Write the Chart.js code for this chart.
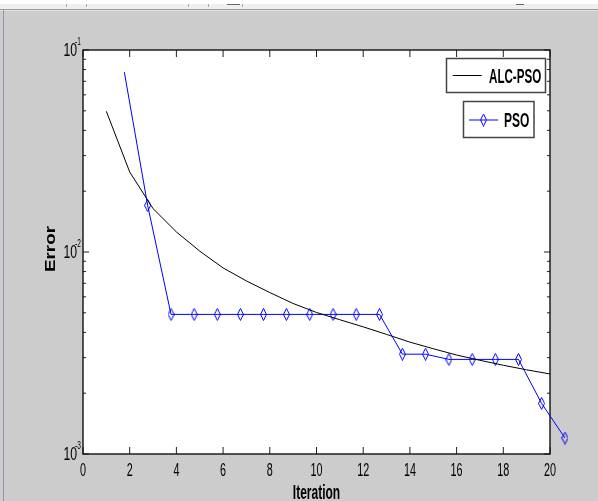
<!DOCTYPE html>
<html><head><meta charset="utf-8">
<script src="https://cdn.jsdelivr.net/npm/chart.js@4/dist/chart.umd.min.js"></script>
<style>html,body{margin:0;padding:0;background:#cccccc;overflow:hidden}canvas{display:block}</style>
</head><body>
<canvas id="c" width="598" height="501"></canvas>
<script>
// ---- data ----
const alcIter  = [1,2,3,4,5,6,7,8,9,10,11,12,13,14,15,16,17,18,19,20];
const alcError = [0.0497,0.0249,0.0164,0.01257,0.0101,0.00834,0.00719,0.0063,0.00556,0.00502,
                  0.00462,0.00426,0.00391,0.00358,0.00332,0.00309,0.00291,0.00275,0.00261,0.00249];
const psoIter  = [1.77,2.77,3.77,4.76,5.75,6.74,7.73,8.71,9.71,10.71,11.70,12.70,
                  13.68,14.67,15.67,16.67,17.66,18.65,19.64,20.64];
const psoError = [0.0777,0.0170,0.00491,0.00491,0.00491,0.00491,0.00491,0.00491,0.00491,0.00491,
                  0.00491,0.00491,0.00312,0.00312,0.00294,0.00294,0.00294,0.00294,0.00178,0.00120];
const seriesNames = ['ALC-PSO','PSO'];
const xTickValues = [0,2,4,6,8,10,12,14,16,18,20];
const xTickLabels = ['0','2','4','6','8','10','12','14','16','18','20'];
const yTickValues = [0.1,0.01,0.001];
const yTickBase = '10';
const yTickExponents = ['-1','-2','-3'];
const xTitle = 'Iteration';
const yTitle = 'Error';

const FONT = '"Liberation Sans", Arial, sans-serif';
function makeDiamond(w,h,color){
  const c=document.createElement('canvas'); c.width=w; c.height=h;
  const g=c.getContext('2d'); g.strokeStyle=color; g.lineWidth=1;
  g.beginPath(); g.moveTo(w/2,0.5); g.lineTo(w-0.5,h/2); g.lineTo(w/2,h-0.5); g.lineTo(0.5,h/2); g.closePath(); g.stroke();
  return c;
}
const diamond = makeDiamond(7,13,'#0000ff');

function txt(ctx,s,x,y,size,bold,sx,align,rot){
  ctx.save(); ctx.translate(x,y); if(rot) ctx.rotate(rot); ctx.scale(sx,1);
  ctx.font=(bold?'bold ':'')+size+'px '+FONT; ctx.textAlign=align; ctx.textBaseline='alphabetic';
  ctx.fillStyle='#000'; ctx.fillText(s,0,0); ctx.restore();
}

const decor = {
  id:'decor',
  beforeDraw(chart){
    const ctx=chart.ctx, a=chart.chartArea;
    ctx.save();
    // window chrome
    ctx.fillStyle='#ffffff'; ctx.fillRect(0,0,598,4);
    ctx.fillStyle='#efefef'; ctx.fillRect(0,4,598,5);
    ctx.fillStyle='#9c9c9c'; ctx.fillRect(0,9,598,1);
    ctx.fillStyle='#e2e2e2'; ctx.fillRect(0,10,598,1);
    ctx.fillStyle='#8c9aa8'; ctx.fillRect(3,10,1,491);
    ctx.fillStyle='#a8a8a8';
    [66,86,188,208,242].forEach(x=>ctx.fillRect(x,4,1,3));
    ctx.fillStyle='#666'; ctx.fillRect(227,4,13,1); ctx.fillRect(516,4,8,1);
    // plot background
    ctx.fillStyle='#ffffff'; ctx.fillRect(a.left,a.top,a.right-a.left,a.bottom-a.top);
    ctx.restore();
  },
  beforeDatasetsDraw(chart){
    const ctx=chart.ctx, a=chart.chartArea, xs=chart.scales.x, ys=chart.scales.y;
    ctx.save();
    ctx.strokeStyle='#222'; ctx.lineWidth=1;
    ctx.beginPath();
    xTickValues.forEach(v=>{ const p=xs.getPixelForValue(v);
      ctx.moveTo(p,a.bottom); ctx.lineTo(p,a.bottom-7); ctx.moveTo(p,a.top); ctx.lineTo(p,a.top+7); });
    yTickValues.forEach(v=>{ const p=ys.getPixelForValue(v);
      ctx.moveTo(a.left,p); ctx.lineTo(a.left+6,p); ctx.moveTo(a.right,p); ctx.lineTo(a.right-6,p); });
    [0.001,0.01].forEach(d=>{ for(let k=2;k<=9;k++){ const p=ys.getPixelForValue(d*k);
      ctx.moveTo(a.left,p); ctx.lineTo(a.left+3,p); ctx.moveTo(a.right,p); ctx.lineTo(a.right-3,p); } });
    ctx.stroke();
    ctx.strokeStyle='#111'; ctx.lineWidth=1.4;
    ctx.strokeRect(a.left,a.top,a.right-a.left,a.bottom-a.top);
    ctx.restore();
  },
  afterDraw(chart){
    const ctx=chart.ctx, a=chart.chartArea, xs=chart.scales.x, ys=chart.scales.y;
    // tick labels
    xTickValues.forEach((v,i)=>txt(ctx,xTickLabels[i],xs.getPixelForValue(v),475.5,18,false,0.6,'center'));
    yTickValues.forEach((v,i)=>{ const p=ys.getPixelForValue(v);
      txt(ctx,yTickBase,77,p+6,18,false,0.68,'right');
      txt(ctx,yTickExponents[i],75,p-5.5,10,false,0.65,'left'); });
    // axis titles
    txt(ctx,xTitle,316.5,499,20,true,0.6,'center');
    txt(ctx,yTitle,55,249,14,true,1.35,'center',-Math.PI/2);
    // legend boxes
    ctx.save();
    ctx.fillStyle='#fff'; ctx.strokeStyle='#444'; ctx.lineWidth=1.5;
    ctx.fillRect(446.5,58.5,99,34); ctx.strokeRect(446.5,58.5,99,34);
    ctx.fillRect(463.5,101.5,70.5,36); ctx.strokeRect(463.5,101.5,70.5,36);
    ctx.lineWidth=1; ctx.strokeStyle='#000';
    ctx.beginPath(); ctx.moveTo(452.7,75.5); ctx.lineTo(481.7,75.5); ctx.stroke();
    ctx.strokeStyle='#0000ff';
    ctx.beginPath(); ctx.moveTo(469,120); ctx.lineTo(498,120); ctx.stroke();
    ctx.drawImage(diamond,483.5-diamond.width/2,120-diamond.height/2);
    ctx.restore();
    txt(ctx,seriesNames[0],489,83,20,true,0.58,'left');
    txt(ctx,seriesNames[1],504,127,20,true,0.6,'left');
  }
};

new Chart(document.getElementById('c'),{
  type:'line',
  data:{datasets:[
    {label:seriesNames[0],data:alcIter.map((x,i)=>({x,y:alcError[i]})),borderColor:'#000',borderWidth:1,
     pointRadius:0,tension:0,fill:false},
    {label:seriesNames[1],data:psoIter.map((x,i)=>({x,y:psoError[i]})),borderColor:'#0000ff',borderWidth:1,
     pointStyle:diamond,pointRadius:c=>c.dataIndex===0?0:20,tension:0,fill:false,clip:false}
  ]},
  options:{
    responsive:false,animation:false,devicePixelRatio:1,events:[],
    layout:{padding:{top:50,right:48,bottom:0,left:0}},
    plugins:{legend:{display:false},tooltip:{enabled:false}},
    scales:{
      x:{type:'linear',min:0,max:20,ticks:{display:false},grid:{display:false,drawTicks:false},border:{display:false},
         afterFit:s=>{s.height=47;}},
      y:{type:'logarithmic',min:0.001,max:0.1,ticks:{display:false},grid:{display:false,drawTicks:false},border:{display:false},
         afterFit:s=>{s.width=83;}}
    }
  },
  plugins:[decor]
});
</script>
</body></html>
